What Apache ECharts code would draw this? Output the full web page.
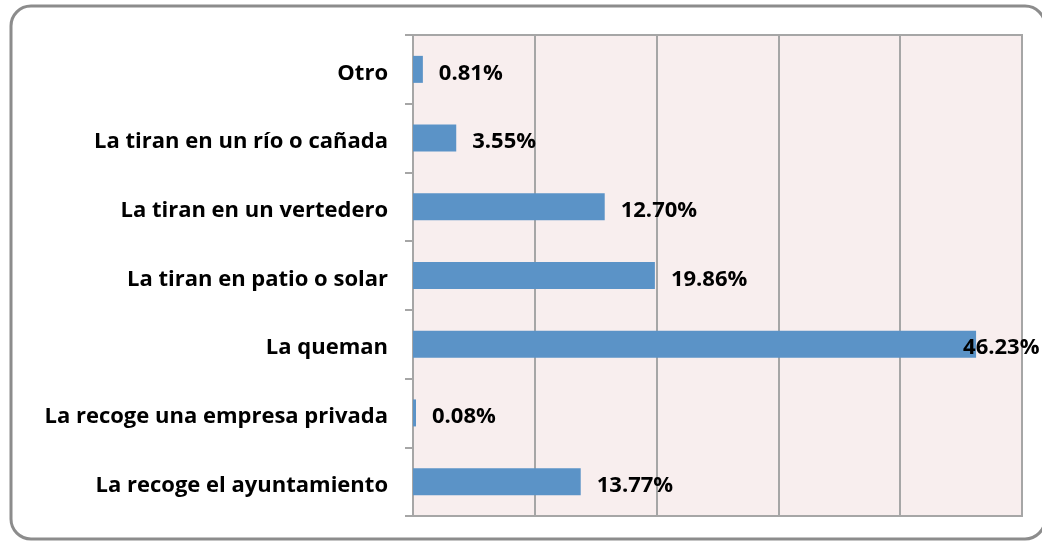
<!DOCTYPE html>
<html>
<head>
<meta charset="utf-8">
<script src="https://cdn.jsdelivr.net/npm/echarts@6/dist/echarts.min.js"></script>
<style>
html,body{margin:0;padding:0;background:#fff;}
#c{width:1042px;height:544px;}
</style>
</head>
<body>
<div id="c"></div>
<script>
const categories = [
  "La recoge el ayuntamiento",
  "La recoge una empresa privada",
  "La queman",
  "La tiran en patio o solar",
  "La tiran en un vertedero",
  "La tiran en un río o cañada",
  "Otro"
];
// bar lengths as drawn in the picture
const values = [13.77, 0.08, 46.23, 19.86, 15.74, 3.55, 0.81];
// data label texts as printed in the picture
const valueLabels = ["13.77%", "0.08%", "46.23%", "19.86%", "12.70%", "3.55%", "0.81%"];
const xMin = 0, xMax = 50, xInterval = 10;

const FONT = 'Open Sans';
const chart = echarts.init(document.getElementById('c'), null, {renderer: 'canvas'});

const seriesData = values.map(v => {
  const item = {value: v};
  if (v > 40) {
    item.label = {distance: -13};
  }
  return item;
});

chart.setOption({
  animation: false,
  backgroundColor: '#ffffff',
  graphic: [{
    type: 'rect',
    shape: {x: 11, y: 6, width: 1034, height: 533, r: 20},
    style: {fill: 'none', stroke: '#8C8C8C', lineWidth: 3},
    z: 100
  }],
  grid: {
    left: 413, right: 20, top: 35, bottom: 28,
    show: true,
    backgroundColor: '#F8EEEE',
    borderColor: '#A6A6A6',
    borderWidth: 2
  },
  xAxis: {
    type: 'value',
    min: xMin, max: xMax, interval: xInterval,
    axisLabel: {show: false},
    axisTick: {show: false},
    axisLine: {show: true, lineStyle: {color: '#A6A6A6', width: 2}},
    splitLine: {show: true, lineStyle: {color: '#A6A6A6', width: 2}}
  },
  yAxis: {
    type: 'category',
    data: categories,
    boundaryGap: true,
    axisLine: {show: true, lineStyle: {color: '#A6A6A6', width: 2}},
    axisTick: {show: true, length: 8, lineStyle: {color: '#A6A6A6', width: 2}},
    axisLabel: {
      margin: 25,
      formatter: v => '{a|' + v + '}',
      rich: {
        a: {
          color: '#000',
          fontFamily: FONT,
          fontWeight: 'bold',
          fontSize: 22,
          padding: [8, 0, 0, 0]
        }
      }
    }
  },
  series: [{
    type: 'bar',
    data: seriesData,
    barWidth: 27,
    barMinHeight: 3,
    itemStyle: {color: '#5B93C7'},
    label: {
      show: true,
      position: 'right',
      distance: 16,
      offset: [0, 4],
      color: '#000',
      fontFamily: FONT,
      fontWeight: 'bold',
      fontSize: 22,
      formatter: p => valueLabels[p.dataIndex]
    }
  }]
});
</script>
</body>
</html>
